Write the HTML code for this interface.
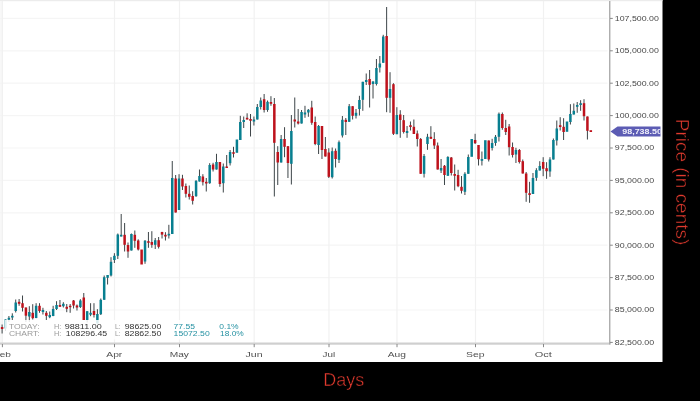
<!DOCTYPE html>
<html><head><meta charset="utf-8"><title>Chart</title>
<style>html,body{margin:0;padding:0;background:#000;overflow:hidden}svg{display:block}text{font-family:"Liberation Sans",Arial,sans-serif}</style></head><body>
<svg width="700" height="401" viewBox="0 0 700 401">
<rect x="0" y="0" width="700" height="401" fill="#000"/>
<rect x="0" y="0" width="662.5" height="362" fill="#fff"/>
<rect x="0" y="0" width="662.5" height="1.2" fill="#ececec"/>
<rect x="0" y="1" width="2.4" height="342" fill="#f8f8f8"/>
<g stroke="#f5f5f5" stroke-width="1.2">
<line x1="0" y1="310.0" x2="607.5" y2="310.0"/>
<line x1="0" y1="277.6" x2="607.5" y2="277.6"/>
<line x1="0" y1="245.2" x2="607.5" y2="245.2"/>
<line x1="0" y1="212.8" x2="607.5" y2="212.8"/>
<line x1="0" y1="180.4" x2="607.5" y2="180.4"/>
<line x1="0" y1="148.0" x2="607.5" y2="148.0"/>
<line x1="0" y1="115.6" x2="607.5" y2="115.6"/>
<line x1="0" y1="83.2" x2="607.5" y2="83.2"/>
<line x1="0" y1="50.8" x2="607.5" y2="50.8"/>
<line x1="0" y1="18.4" x2="607.5" y2="18.4"/>
</g>
<g stroke="#f1f1f1" stroke-width="1.2">
<line x1="2.4" y1="1" x2="2.4" y2="343"/>
<line x1="114.5" y1="1" x2="114.5" y2="343"/>
<line x1="179.5" y1="1" x2="179.5" y2="343"/>
<line x1="254.2" y1="1" x2="254.2" y2="343"/>
<line x1="329" y1="1" x2="329" y2="343"/>
<line x1="397" y1="1" x2="397" y2="343"/>
<line x1="475.5" y1="1" x2="475.5" y2="343"/>
<line x1="543.5" y1="1" x2="543.5" y2="343"/>
</g>
<g stroke="#3d4548" stroke-width="1">
<line x1="2.10" y1="324.5" x2="2.10" y2="333.5"/>
<line x1="5.50" y1="319.5" x2="5.50" y2="331.0"/>
<line x1="8.91" y1="316.0" x2="8.91" y2="322.0"/>
<line x1="12.31" y1="313.3" x2="12.31" y2="320.0"/>
<line x1="15.71" y1="299.5" x2="15.71" y2="312.5"/>
<line x1="19.12" y1="299.0" x2="19.12" y2="305.8"/>
<line x1="22.52" y1="295.5" x2="22.52" y2="311.5"/>
<line x1="25.92" y1="307.5" x2="25.92" y2="322.0"/>
<line x1="29.32" y1="306.2" x2="29.32" y2="322.0"/>
<line x1="32.73" y1="304.2" x2="32.73" y2="319.5"/>
<line x1="36.13" y1="303.2" x2="36.13" y2="318.2"/>
<line x1="39.53" y1="303.2" x2="39.53" y2="312.8"/>
<line x1="42.94" y1="307.8" x2="42.94" y2="314.5"/>
<line x1="46.34" y1="311.0" x2="46.34" y2="320.0"/>
<line x1="49.74" y1="311.5" x2="49.74" y2="318.2"/>
<line x1="53.15" y1="305.8" x2="53.15" y2="316.2"/>
<line x1="56.55" y1="301.2" x2="56.55" y2="310.0"/>
<line x1="59.95" y1="300.0" x2="59.95" y2="306.8"/>
<line x1="63.35" y1="302.2" x2="63.35" y2="307.5"/>
<line x1="66.76" y1="304.0" x2="66.76" y2="312.2"/>
<line x1="70.16" y1="304.0" x2="70.16" y2="312.8"/>
<line x1="73.56" y1="300.0" x2="73.56" y2="308.5"/>
<line x1="76.97" y1="304.5" x2="76.97" y2="310.5"/>
<line x1="80.37" y1="299.2" x2="80.37" y2="308.0"/>
<line x1="83.77" y1="293.0" x2="83.77" y2="320.0"/>
<line x1="87.17" y1="311.2" x2="87.17" y2="322.5"/>
<line x1="90.58" y1="303.2" x2="90.58" y2="316.2"/>
<line x1="93.98" y1="303.2" x2="93.98" y2="317.5"/>
<line x1="97.38" y1="309.2" x2="97.38" y2="323.5"/>
<line x1="100.79" y1="298.5" x2="100.79" y2="315.0"/>
<line x1="104.19" y1="275.5" x2="104.19" y2="299.8"/>
<line x1="107.59" y1="275.0" x2="107.59" y2="284.5"/>
<line x1="111.00" y1="257.2" x2="111.00" y2="276.5"/>
<line x1="114.40" y1="253.2" x2="114.40" y2="263.0"/>
<line x1="117.80" y1="233.5" x2="117.80" y2="259.0"/>
<line x1="121.20" y1="214.0" x2="121.20" y2="236.5"/>
<line x1="124.61" y1="223.0" x2="124.61" y2="251.5"/>
<line x1="128.01" y1="242.5" x2="128.01" y2="257.8"/>
<line x1="131.41" y1="233.5" x2="131.41" y2="250.5"/>
<line x1="134.82" y1="230.5" x2="134.82" y2="247.8"/>
<line x1="138.22" y1="239.3" x2="138.22" y2="250.5"/>
<line x1="145.03" y1="240.0" x2="145.03" y2="263.8"/>
<line x1="148.43" y1="232.0" x2="148.43" y2="247.8"/>
<line x1="151.83" y1="231.2" x2="151.83" y2="247.8"/>
<line x1="155.23" y1="238.0" x2="155.23" y2="249.0"/>
<line x1="158.64" y1="237.0" x2="158.64" y2="248.5"/>
<line x1="162.04" y1="231.8" x2="162.04" y2="238.5"/>
<line x1="165.44" y1="232.2" x2="165.44" y2="240.5"/>
<line x1="168.85" y1="224.8" x2="168.85" y2="238.5"/>
<line x1="172.25" y1="161.0" x2="172.25" y2="234.0"/>
<line x1="175.65" y1="175.0" x2="175.65" y2="212.5"/>
<line x1="179.06" y1="174.2" x2="179.06" y2="210.0"/>
<line x1="182.46" y1="174.8" x2="182.46" y2="190.0"/>
<line x1="185.86" y1="183.5" x2="185.86" y2="197.5"/>
<line x1="189.26" y1="185.5" x2="189.26" y2="199.5"/>
<line x1="192.67" y1="191.2" x2="192.67" y2="204.5"/>
<line x1="196.07" y1="180.2" x2="196.07" y2="196.8"/>
<line x1="199.47" y1="169.5" x2="199.47" y2="181.5"/>
<line x1="202.88" y1="174.2" x2="202.88" y2="185.5"/>
<line x1="206.28" y1="178.0" x2="206.28" y2="191.5"/>
<line x1="209.68" y1="163.2" x2="209.68" y2="183.8"/>
<line x1="213.09" y1="162.8" x2="213.09" y2="171.5"/>
<line x1="216.49" y1="153.8" x2="216.49" y2="169.5"/>
<line x1="219.89" y1="162.0" x2="219.89" y2="186.8"/>
<line x1="223.29" y1="163.5" x2="223.29" y2="192.5"/>
<line x1="226.70" y1="155.0" x2="226.70" y2="168.0"/>
<line x1="230.10" y1="150.0" x2="230.10" y2="165.5"/>
<line x1="233.50" y1="146.8" x2="233.50" y2="157.5"/>
<line x1="240.31" y1="115.8" x2="240.31" y2="140.0"/>
<line x1="243.71" y1="116.5" x2="243.71" y2="128.0"/>
<line x1="247.12" y1="113.3" x2="247.12" y2="119.5"/>
<line x1="250.52" y1="114.0" x2="250.52" y2="136.5"/>
<line x1="253.92" y1="116.5" x2="253.92" y2="125.5"/>
<line x1="257.32" y1="104.0" x2="257.32" y2="119.5"/>
<line x1="260.73" y1="97.5" x2="260.73" y2="109.5"/>
<line x1="264.13" y1="94.0" x2="264.13" y2="112.5"/>
<line x1="267.53" y1="100.5" x2="267.53" y2="111.8"/>
<line x1="270.94" y1="96.2" x2="270.94" y2="105.8"/>
<line x1="274.34" y1="98.0" x2="274.34" y2="196.5"/>
<line x1="277.74" y1="146.2" x2="277.74" y2="185.0"/>
<line x1="281.15" y1="135.0" x2="281.15" y2="162.5"/>
<line x1="284.55" y1="127.2" x2="284.55" y2="157.2"/>
<line x1="287.95" y1="146.2" x2="287.95" y2="178.0"/>
<line x1="291.36" y1="115.0" x2="291.36" y2="184.5"/>
<line x1="294.76" y1="97.5" x2="294.76" y2="127.5"/>
<line x1="298.16" y1="109.0" x2="298.16" y2="124.5"/>
<line x1="301.56" y1="110.0" x2="301.56" y2="123.5"/>
<line x1="304.97" y1="105.8" x2="304.97" y2="117.8"/>
<line x1="308.37" y1="109.0" x2="308.37" y2="116.8"/>
<line x1="311.77" y1="100.8" x2="311.77" y2="124.8"/>
<line x1="315.18" y1="116.5" x2="315.18" y2="145.2"/>
<line x1="318.58" y1="125.0" x2="318.58" y2="154.0"/>
<line x1="321.98" y1="126.0" x2="321.98" y2="159.0"/>
<line x1="325.39" y1="137.0" x2="325.39" y2="156.5"/>
<line x1="328.79" y1="148.2" x2="328.79" y2="178.0"/>
<line x1="332.19" y1="147.5" x2="332.19" y2="178.5"/>
<line x1="335.59" y1="148.5" x2="335.59" y2="167.5"/>
<line x1="339.00" y1="140.5" x2="339.00" y2="163.0"/>
<line x1="342.40" y1="116.0" x2="342.40" y2="137.5"/>
<line x1="345.80" y1="118.0" x2="345.80" y2="135.0"/>
<line x1="349.21" y1="104.0" x2="349.21" y2="121.8"/>
<line x1="352.61" y1="106.2" x2="352.61" y2="119.5"/>
<line x1="356.01" y1="109.0" x2="356.01" y2="118.5"/>
<line x1="359.42" y1="95.8" x2="359.42" y2="115.5"/>
<line x1="362.82" y1="81.8" x2="362.82" y2="110.8"/>
<line x1="366.22" y1="73.5" x2="366.22" y2="85.0"/>
<line x1="369.62" y1="70.0" x2="369.62" y2="107.5"/>
<line x1="373.03" y1="81.2" x2="373.03" y2="98.5"/>
<line x1="376.43" y1="59.0" x2="376.43" y2="85.5"/>
<line x1="379.83" y1="56.0" x2="379.83" y2="72.5"/>
<line x1="383.24" y1="34.8" x2="383.24" y2="62.8"/>
<line x1="386.64" y1="7.0" x2="386.64" y2="112.2"/>
<line x1="390.04" y1="72.2" x2="390.04" y2="112.8"/>
<line x1="393.45" y1="83.2" x2="393.45" y2="135.0"/>
<line x1="396.85" y1="107.2" x2="396.85" y2="134.2"/>
<line x1="400.25" y1="110.2" x2="400.25" y2="137.8"/>
<line x1="403.65" y1="115.0" x2="403.65" y2="133.5"/>
<line x1="407.06" y1="126.0" x2="407.06" y2="137.8"/>
<line x1="410.46" y1="121.5" x2="410.46" y2="130.5"/>
<line x1="413.86" y1="119.5" x2="413.86" y2="134.0"/>
<line x1="417.27" y1="130.5" x2="417.27" y2="146.5"/>
<line x1="420.67" y1="138.0" x2="420.67" y2="173.8"/>
<line x1="424.07" y1="154.0" x2="424.07" y2="177.5"/>
<line x1="427.48" y1="133.8" x2="427.48" y2="149.8"/>
<line x1="430.88" y1="126.2" x2="430.88" y2="138.8"/>
<line x1="434.28" y1="132.2" x2="434.28" y2="149.0"/>
<line x1="437.68" y1="142.5" x2="437.68" y2="169.5"/>
<line x1="441.09" y1="159.0" x2="441.09" y2="173.0"/>
<line x1="444.49" y1="165.0" x2="444.49" y2="185.0"/>
<line x1="447.89" y1="156.2" x2="447.89" y2="175.8"/>
<line x1="451.30" y1="157.0" x2="451.30" y2="175.5"/>
<line x1="454.70" y1="164.5" x2="454.70" y2="190.5"/>
<line x1="458.10" y1="169.8" x2="458.10" y2="187.2"/>
<line x1="461.51" y1="176.0" x2="461.51" y2="193.5"/>
<line x1="464.91" y1="172.2" x2="464.91" y2="195.0"/>
<line x1="468.31" y1="154.5" x2="468.31" y2="173.8"/>
<line x1="475.12" y1="133.8" x2="475.12" y2="144.0"/>
<line x1="478.52" y1="145.0" x2="478.52" y2="165.5"/>
<line x1="481.92" y1="151.5" x2="481.92" y2="165.5"/>
<line x1="488.73" y1="140.5" x2="488.73" y2="161.5"/>
<line x1="492.13" y1="138.8" x2="492.13" y2="150.5"/>
<line x1="495.54" y1="135.0" x2="495.54" y2="145.8"/>
<line x1="498.94" y1="112.5" x2="498.94" y2="141.5"/>
<line x1="502.34" y1="112.5" x2="502.34" y2="129.8"/>
<line x1="505.74" y1="119.8" x2="505.74" y2="135.0"/>
<line x1="509.15" y1="124.0" x2="509.15" y2="155.5"/>
<line x1="512.55" y1="142.5" x2="512.55" y2="157.5"/>
<line x1="515.95" y1="147.8" x2="515.95" y2="163.0"/>
<line x1="519.36" y1="149.0" x2="519.36" y2="163.5"/>
<line x1="522.76" y1="159.5" x2="522.76" y2="173.5"/>
<line x1="526.16" y1="172.0" x2="526.16" y2="201.8"/>
<line x1="529.57" y1="181.8" x2="529.57" y2="202.8"/>
<line x1="532.97" y1="173.0" x2="532.97" y2="194.0"/>
<line x1="536.37" y1="168.2" x2="536.37" y2="180.8"/>
<line x1="539.77" y1="161.2" x2="539.77" y2="170.5"/>
<line x1="543.18" y1="157.2" x2="543.18" y2="176.2"/>
<line x1="546.58" y1="162.2" x2="546.58" y2="178.8"/>
<line x1="549.98" y1="157.2" x2="549.98" y2="176.8"/>
<line x1="553.39" y1="138.5" x2="553.39" y2="159.5"/>
<line x1="556.79" y1="120.5" x2="556.79" y2="145.5"/>
<line x1="560.19" y1="117.2" x2="560.19" y2="130.5"/>
<line x1="563.60" y1="118.2" x2="563.60" y2="140.0"/>
<line x1="570.40" y1="104.2" x2="570.40" y2="124.5"/>
<line x1="573.80" y1="103.5" x2="573.80" y2="114.5"/>
<line x1="577.21" y1="102.0" x2="577.21" y2="112.8"/>
<line x1="580.61" y1="100.2" x2="580.61" y2="110.8"/>
<line x1="584.01" y1="99.2" x2="584.01" y2="120.5"/>
<line x1="587.42" y1="116.5" x2="587.42" y2="139.5"/>
</g>
<g fill="#087f90">
<rect x="4.25" y="319.5" width="2.5" height="9.0"/>
<rect x="7.66" y="317.8" width="2.5" height="1.9"/>
<rect x="11.06" y="315.8" width="2.5" height="1.7"/>
<rect x="14.46" y="302.5" width="2.5" height="8.5"/>
<rect x="28.07" y="312.0" width="2.5" height="4.5"/>
<rect x="34.88" y="305.8" width="2.5" height="12.2"/>
<rect x="41.69" y="310.0" width="2.5" height="2.0"/>
<rect x="48.49" y="315.0" width="2.5" height="2.2"/>
<rect x="51.90" y="309.0" width="2.5" height="7.0"/>
<rect x="55.30" y="305.0" width="2.5" height="4.0"/>
<rect x="62.10" y="303.8" width="2.5" height="2.4"/>
<rect x="79.12" y="300.5" width="2.5" height="6.5"/>
<rect x="85.92" y="311.2" width="2.5" height="8.8"/>
<rect x="89.33" y="312.8" width="2.5" height="1.9"/>
<rect x="96.13" y="314.0" width="2.5" height="9.5"/>
<rect x="99.54" y="299.8" width="2.5" height="14.4"/>
<rect x="102.94" y="277.2" width="2.5" height="22.6"/>
<rect x="106.34" y="275.0" width="2.5" height="2.8"/>
<rect x="109.75" y="261.8" width="2.5" height="13.7"/>
<rect x="113.15" y="255.8" width="2.5" height="4.2"/>
<rect x="116.55" y="234.5" width="2.5" height="21.3"/>
<rect x="119.95" y="234.8" width="2.5" height="1.7"/>
<rect x="130.16" y="234.0" width="2.5" height="16.5"/>
<rect x="143.78" y="240.8" width="2.5" height="20.7"/>
<rect x="153.98" y="240.2" width="2.5" height="4.6"/>
<rect x="167.60" y="233.8" width="2.5" height="1.7"/>
<rect x="171.00" y="178.0" width="2.5" height="56.0"/>
<rect x="177.81" y="178.5" width="2.5" height="31.5"/>
<rect x="194.82" y="180.8" width="2.5" height="15.4"/>
<rect x="198.22" y="176.0" width="2.5" height="5.5"/>
<rect x="208.43" y="165.0" width="2.5" height="18.2"/>
<rect x="215.24" y="162.0" width="2.5" height="7.5"/>
<rect x="222.04" y="166.5" width="2.5" height="16.7"/>
<rect x="228.85" y="152.0" width="2.5" height="11.2"/>
<rect x="235.66" y="139.5" width="2.5" height="13.3"/>
<rect x="239.06" y="122.0" width="2.5" height="18.0"/>
<rect x="242.46" y="120.0" width="2.5" height="2.0"/>
<rect x="252.67" y="119.5" width="2.5" height="2.0"/>
<rect x="256.07" y="107.0" width="2.5" height="12.5"/>
<rect x="259.48" y="100.5" width="2.5" height="6.5"/>
<rect x="266.28" y="101.8" width="2.5" height="8.2"/>
<rect x="279.90" y="139.0" width="2.5" height="23.5"/>
<rect x="290.11" y="131.0" width="2.5" height="32.8"/>
<rect x="300.31" y="112.0" width="2.5" height="11.5"/>
<rect x="303.72" y="112.5" width="2.5" height="2.0"/>
<rect x="307.12" y="109.8" width="2.5" height="2.7"/>
<rect x="317.33" y="126.0" width="2.5" height="19.0"/>
<rect x="330.94" y="151.2" width="2.5" height="26.0"/>
<rect x="337.75" y="142.2" width="2.5" height="17.6"/>
<rect x="341.15" y="119.8" width="2.5" height="15.7"/>
<rect x="347.96" y="106.2" width="2.5" height="15.6"/>
<rect x="354.76" y="112.8" width="2.5" height="3.0"/>
<rect x="358.17" y="100.0" width="2.5" height="9.0"/>
<rect x="361.57" y="81.8" width="2.5" height="18.0"/>
<rect x="364.97" y="80.0" width="2.5" height="2.0"/>
<rect x="371.78" y="81.5" width="2.5" height="2.5"/>
<rect x="375.18" y="68.0" width="2.5" height="16.0"/>
<rect x="378.58" y="63.5" width="2.5" height="4.0"/>
<rect x="381.99" y="36.5" width="2.5" height="26.3"/>
<rect x="388.79" y="89.0" width="2.5" height="8.8"/>
<rect x="395.60" y="115.0" width="2.5" height="19.2"/>
<rect x="405.81" y="131.0" width="2.5" height="2.0"/>
<rect x="422.82" y="156.0" width="2.5" height="17.8"/>
<rect x="426.23" y="136.8" width="2.5" height="7.2"/>
<rect x="439.84" y="168.0" width="2.5" height="2.5"/>
<rect x="446.64" y="157.0" width="2.5" height="18.8"/>
<rect x="463.66" y="173.8" width="2.5" height="18.0"/>
<rect x="467.06" y="157.0" width="2.5" height="16.8"/>
<rect x="470.46" y="139.0" width="2.5" height="17.8"/>
<rect x="480.67" y="159.0" width="2.5" height="1.8"/>
<rect x="484.08" y="140.2" width="2.5" height="18.8"/>
<rect x="490.88" y="143.0" width="2.5" height="5.0"/>
<rect x="494.29" y="136.8" width="2.5" height="6.2"/>
<rect x="497.69" y="113.8" width="2.5" height="23.0"/>
<rect x="514.70" y="150.0" width="2.5" height="4.5"/>
<rect x="531.72" y="178.0" width="2.5" height="16.0"/>
<rect x="535.12" y="170.2" width="2.5" height="7.6"/>
<rect x="538.52" y="166.0" width="2.5" height="4.5"/>
<rect x="548.73" y="159.5" width="2.5" height="12.0"/>
<rect x="552.14" y="140.0" width="2.5" height="19.5"/>
<rect x="555.54" y="128.5" width="2.5" height="12.0"/>
<rect x="565.75" y="121.5" width="2.5" height="10.3"/>
<rect x="569.15" y="114.0" width="2.5" height="8.0"/>
<rect x="572.55" y="110.8" width="2.5" height="3.7"/>
<rect x="575.96" y="105.0" width="2.5" height="1.8"/>
<rect x="579.36" y="103.2" width="2.5" height="1.8"/>
</g>
<g fill="#be121c">
<rect x="0.85" y="327.0" width="2.5" height="2.0"/>
<rect x="17.87" y="301.8" width="2.5" height="2.0"/>
<rect x="21.27" y="303.2" width="2.5" height="4.6"/>
<rect x="24.67" y="307.5" width="2.5" height="8.2"/>
<rect x="31.48" y="312.8" width="2.5" height="5.4"/>
<rect x="38.28" y="305.8" width="2.5" height="5.2"/>
<rect x="45.09" y="312.8" width="2.5" height="3.0"/>
<rect x="58.70" y="305.0" width="2.5" height="1.8"/>
<rect x="65.51" y="306.8" width="2.5" height="2.0"/>
<rect x="68.91" y="305.8" width="2.5" height="1.4"/>
<rect x="72.31" y="300.5" width="2.5" height="5.0"/>
<rect x="75.72" y="305.5" width="2.5" height="2.0"/>
<rect x="82.52" y="297.5" width="2.5" height="22.5"/>
<rect x="92.73" y="311.0" width="2.5" height="4.0"/>
<rect x="123.36" y="234.8" width="2.5" height="10.0"/>
<rect x="126.76" y="245.0" width="2.5" height="6.5"/>
<rect x="133.57" y="234.8" width="2.5" height="6.0"/>
<rect x="136.97" y="240.5" width="2.5" height="9.0"/>
<rect x="140.37" y="249.5" width="2.5" height="15.0"/>
<rect x="147.18" y="241.2" width="2.5" height="1.6"/>
<rect x="150.58" y="242.0" width="2.5" height="2.8"/>
<rect x="157.39" y="240.2" width="2.5" height="6.6"/>
<rect x="160.79" y="232.0" width="2.5" height="2.6"/>
<rect x="164.19" y="234.8" width="2.5" height="1.7"/>
<rect x="174.40" y="178.5" width="2.5" height="34.0"/>
<rect x="181.21" y="178.5" width="2.5" height="8.0"/>
<rect x="184.61" y="186.0" width="2.5" height="7.8"/>
<rect x="188.01" y="193.8" width="2.5" height="3.0"/>
<rect x="191.42" y="196.0" width="2.5" height="4.8"/>
<rect x="201.63" y="176.5" width="2.5" height="5.7"/>
<rect x="205.03" y="181.8" width="2.5" height="1.7"/>
<rect x="211.84" y="164.5" width="2.5" height="5.0"/>
<rect x="218.64" y="162.0" width="2.5" height="22.0"/>
<rect x="225.45" y="166.5" width="2.5" height="1.5"/>
<rect x="232.25" y="152.2" width="2.5" height="1.6"/>
<rect x="245.87" y="117.8" width="2.5" height="1.7"/>
<rect x="249.27" y="119.0" width="2.5" height="1.8"/>
<rect x="262.88" y="99.2" width="2.5" height="10.8"/>
<rect x="269.69" y="102.0" width="2.5" height="1.8"/>
<rect x="273.09" y="104.0" width="2.5" height="38.8"/>
<rect x="276.49" y="152.0" width="2.5" height="10.5"/>
<rect x="283.30" y="139.0" width="2.5" height="7.8"/>
<rect x="286.70" y="146.2" width="2.5" height="16.8"/>
<rect x="293.51" y="119.5" width="2.5" height="2.0"/>
<rect x="296.91" y="121.5" width="2.5" height="2.0"/>
<rect x="310.52" y="107.5" width="2.5" height="15.3"/>
<rect x="313.93" y="122.0" width="2.5" height="22.0"/>
<rect x="320.73" y="126.0" width="2.5" height="24.0"/>
<rect x="324.14" y="149.0" width="2.5" height="7.5"/>
<rect x="327.54" y="152.5" width="2.5" height="24.3"/>
<rect x="334.34" y="150.8" width="2.5" height="8.2"/>
<rect x="344.55" y="119.8" width="2.5" height="2.2"/>
<rect x="351.36" y="106.2" width="2.5" height="9.6"/>
<rect x="368.37" y="79.0" width="2.5" height="5.8"/>
<rect x="385.39" y="36.0" width="2.5" height="61.8"/>
<rect x="392.20" y="84.2" width="2.5" height="49.6"/>
<rect x="399.00" y="114.5" width="2.5" height="5.5"/>
<rect x="402.40" y="120.2" width="2.5" height="11.8"/>
<rect x="409.21" y="125.2" width="2.5" height="1.8"/>
<rect x="412.61" y="126.8" width="2.5" height="7.2"/>
<rect x="416.02" y="133.5" width="2.5" height="5.5"/>
<rect x="419.42" y="139.0" width="2.5" height="34.8"/>
<rect x="429.63" y="136.8" width="2.5" height="2.0"/>
<rect x="433.03" y="139.0" width="2.5" height="6.5"/>
<rect x="436.43" y="145.5" width="2.5" height="24.0"/>
<rect x="443.24" y="165.8" width="2.5" height="9.2"/>
<rect x="450.05" y="157.5" width="2.5" height="15.5"/>
<rect x="453.45" y="174.0" width="2.5" height="1.8"/>
<rect x="456.85" y="175.0" width="2.5" height="11.2"/>
<rect x="460.26" y="186.8" width="2.5" height="4.0"/>
<rect x="473.87" y="140.0" width="2.5" height="3.2"/>
<rect x="477.27" y="145.0" width="2.5" height="14.2"/>
<rect x="487.48" y="140.5" width="2.5" height="19.0"/>
<rect x="501.09" y="114.0" width="2.5" height="14.0"/>
<rect x="504.49" y="128.0" width="2.5" height="4.0"/>
<rect x="507.90" y="126.5" width="2.5" height="20.7"/>
<rect x="511.30" y="147.0" width="2.5" height="8.0"/>
<rect x="518.11" y="150.0" width="2.5" height="12.0"/>
<rect x="521.51" y="161.2" width="2.5" height="12.3"/>
<rect x="524.91" y="173.5" width="2.5" height="19.3"/>
<rect x="528.32" y="193.2" width="2.5" height="1.8"/>
<rect x="541.93" y="162.0" width="2.5" height="6.8"/>
<rect x="545.33" y="168.2" width="2.5" height="3.0"/>
<rect x="558.94" y="125.2" width="2.5" height="1.8"/>
<rect x="562.35" y="126.8" width="2.5" height="5.2"/>
<rect x="582.76" y="103.2" width="2.5" height="13.0"/>
<rect x="586.17" y="116.5" width="2.5" height="14.3"/>
<rect x="589.57" y="130.2" width="2.5" height="1.8"/>
</g>
<rect x="4.4" y="320" width="246" height="19.5" fill="#fff" fill-opacity="0.85"/>
<text x="8.9" y="329" font-size="6.4" fill="#9a9a9a" textLength="30.7" lengthAdjust="spacingAndGlyphs">TODAY:</text>
<text x="8.9" y="336" font-size="6.4" fill="#9a9a9a" textLength="30.7" lengthAdjust="spacingAndGlyphs">CHART:</text>
<text x="53.9" y="329" font-size="6.4" fill="#9a9a9a" textLength="7.4" lengthAdjust="spacingAndGlyphs">H:</text>
<text x="53.9" y="336" font-size="6.4" fill="#9a9a9a" textLength="7.4" lengthAdjust="spacingAndGlyphs">H:</text>
<text x="64.8" y="329" font-size="6.4" fill="#333" textLength="36.9" lengthAdjust="spacingAndGlyphs">98811.00</text>
<text x="65.8" y="336" font-size="6.4" fill="#333" textLength="41.4" lengthAdjust="spacingAndGlyphs">108296.45</text>
<text x="114.9" y="329" font-size="6.4" fill="#9a9a9a" textLength="5.7" lengthAdjust="spacingAndGlyphs">L:</text>
<text x="114.9" y="336" font-size="6.4" fill="#9a9a9a" textLength="5.7" lengthAdjust="spacingAndGlyphs">L:</text>
<text x="124.7" y="329" font-size="6.4" fill="#333" textLength="36.6" lengthAdjust="spacingAndGlyphs">98625.00</text>
<text x="124.7" y="336" font-size="6.4" fill="#333" textLength="36.6" lengthAdjust="spacingAndGlyphs">82862.50</text>
<text x="173.6" y="329" font-size="6.4" fill="#2591a2" textLength="21.3" lengthAdjust="spacingAndGlyphs">77.55</text>
<text x="173.6" y="336" font-size="6.4" fill="#2591a2" textLength="36.1" lengthAdjust="spacingAndGlyphs">15072.50</text>
<text x="219.3" y="329" font-size="6.4" fill="#2591a2" textLength="19.4" lengthAdjust="spacingAndGlyphs">0.1%</text>
<text x="220.0" y="336" font-size="6.4" fill="#2591a2" textLength="23.8" lengthAdjust="spacingAndGlyphs">18.0%</text>
<rect x="0" y="342.5" width="610.5" height="2.2" fill="#cfcfcf"/>
<rect x="609.1" y="1" width="1.3" height="343.5" fill="#a6a6a6"/>
<g stroke="#888" stroke-width="1">
<line x1="610" y1="342.4" x2="612.8" y2="342.4"/>
<line x1="610" y1="310.0" x2="612.8" y2="310.0"/>
<line x1="610" y1="277.6" x2="612.8" y2="277.6"/>
<line x1="610" y1="245.2" x2="612.8" y2="245.2"/>
<line x1="610" y1="212.8" x2="612.8" y2="212.8"/>
<line x1="610" y1="180.4" x2="612.8" y2="180.4"/>
<line x1="610" y1="148.0" x2="612.8" y2="148.0"/>
<line x1="610" y1="115.6" x2="612.8" y2="115.6"/>
<line x1="610" y1="83.2" x2="612.8" y2="83.2"/>
<line x1="610" y1="50.8" x2="612.8" y2="50.8"/>
<line x1="610" y1="18.4" x2="612.8" y2="18.4"/>
<line x1="2.4" y1="344" x2="2.4" y2="347.2"/>
<line x1="114.5" y1="344" x2="114.5" y2="347.2"/>
<line x1="179.5" y1="344" x2="179.5" y2="347.2"/>
<line x1="254.2" y1="344" x2="254.2" y2="347.2"/>
<line x1="329" y1="344" x2="329" y2="347.2"/>
<line x1="397" y1="344" x2="397" y2="347.2"/>
<line x1="475.5" y1="344" x2="475.5" y2="347.2"/>
<line x1="543.5" y1="344" x2="543.5" y2="347.2"/>
</g>
<text x="614.8" y="344.7" font-size="7" fill="#484848" textLength="39.4" lengthAdjust="spacingAndGlyphs">82,500.00</text>
<text x="614.8" y="312.3" font-size="7" fill="#484848" textLength="39.4" lengthAdjust="spacingAndGlyphs">85,000.00</text>
<text x="614.8" y="279.9" font-size="7" fill="#484848" textLength="39.4" lengthAdjust="spacingAndGlyphs">87,500.00</text>
<text x="614.8" y="247.5" font-size="7" fill="#484848" textLength="39.4" lengthAdjust="spacingAndGlyphs">90,000.00</text>
<text x="614.8" y="215.1" font-size="7" fill="#484848" textLength="39.4" lengthAdjust="spacingAndGlyphs">92,500.00</text>
<text x="614.8" y="182.7" font-size="7" fill="#484848" textLength="39.4" lengthAdjust="spacingAndGlyphs">95,000.00</text>
<text x="614.8" y="150.3" font-size="7" fill="#484848" textLength="39.4" lengthAdjust="spacingAndGlyphs">97,500.00</text>
<text x="614.8" y="117.9" font-size="7" fill="#484848" textLength="44" lengthAdjust="spacingAndGlyphs">100,000.00</text>
<text x="614.8" y="85.5" font-size="7" fill="#484848" textLength="44" lengthAdjust="spacingAndGlyphs">102,500.00</text>
<text x="614.8" y="53.1" font-size="7" fill="#484848" textLength="44" lengthAdjust="spacingAndGlyphs">105,000.00</text>
<text x="614.8" y="20.7" font-size="7" fill="#484848" textLength="44" lengthAdjust="spacingAndGlyphs">107,500.00</text>
<text x="-6.5" y="357.4" font-size="7.8" fill="#505050" textLength="17.4" lengthAdjust="spacingAndGlyphs">Feb</text>
<text x="106.3" y="357.4" font-size="7.8" fill="#505050" textLength="16" lengthAdjust="spacingAndGlyphs">Apr</text>
<text x="169.7" y="357.4" font-size="7.8" fill="#505050" textLength="19.2" lengthAdjust="spacingAndGlyphs">May</text>
<text x="245.5" y="357.4" font-size="7.8" fill="#505050" textLength="17" lengthAdjust="spacingAndGlyphs">Jun</text>
<text x="322.5" y="357.4" font-size="7.8" fill="#505050" textLength="12.6" lengthAdjust="spacingAndGlyphs">Jul</text>
<text x="387.7" y="357.4" font-size="7.8" fill="#505050" textLength="18.2" lengthAdjust="spacingAndGlyphs">Aug</text>
<text x="466.0" y="357.4" font-size="7.8" fill="#505050" textLength="18.6" lengthAdjust="spacingAndGlyphs">Sep</text>
<text x="534.8" y="357.4" font-size="7.8" fill="#505050" textLength="17.1" lengthAdjust="spacingAndGlyphs">Oct</text>
<path d="M610.5 131.4 L617.5 126.4 L660.5 126.4 L660.5 136.5 L617.5 136.5 Z" fill="#5c5cb4"/>
<clipPath id="fc"><rect x="610" y="126" width="50.5" height="11"/></clipPath>
<g clip-path="url(#fc)">
<text x="622.3" y="134.1" font-size="6.3" fill="#f0f0fa" textLength="39.6" lengthAdjust="spacingAndGlyphs" font-weight="bold">98,738.50</text>
</g>
<text x="323.3" y="385.8" font-size="17.9" fill="#e03a2e" stroke="#000" stroke-width="0.45" textLength="41" lengthAdjust="spacingAndGlyphs">Days</text>
<text transform="translate(676,118.8) rotate(90)" font-size="18.2" fill="#e03a2e" stroke="#000" stroke-width="0.45" textLength="126.5" lengthAdjust="spacingAndGlyphs">Price (in cents)</text>
</svg></body></html>
